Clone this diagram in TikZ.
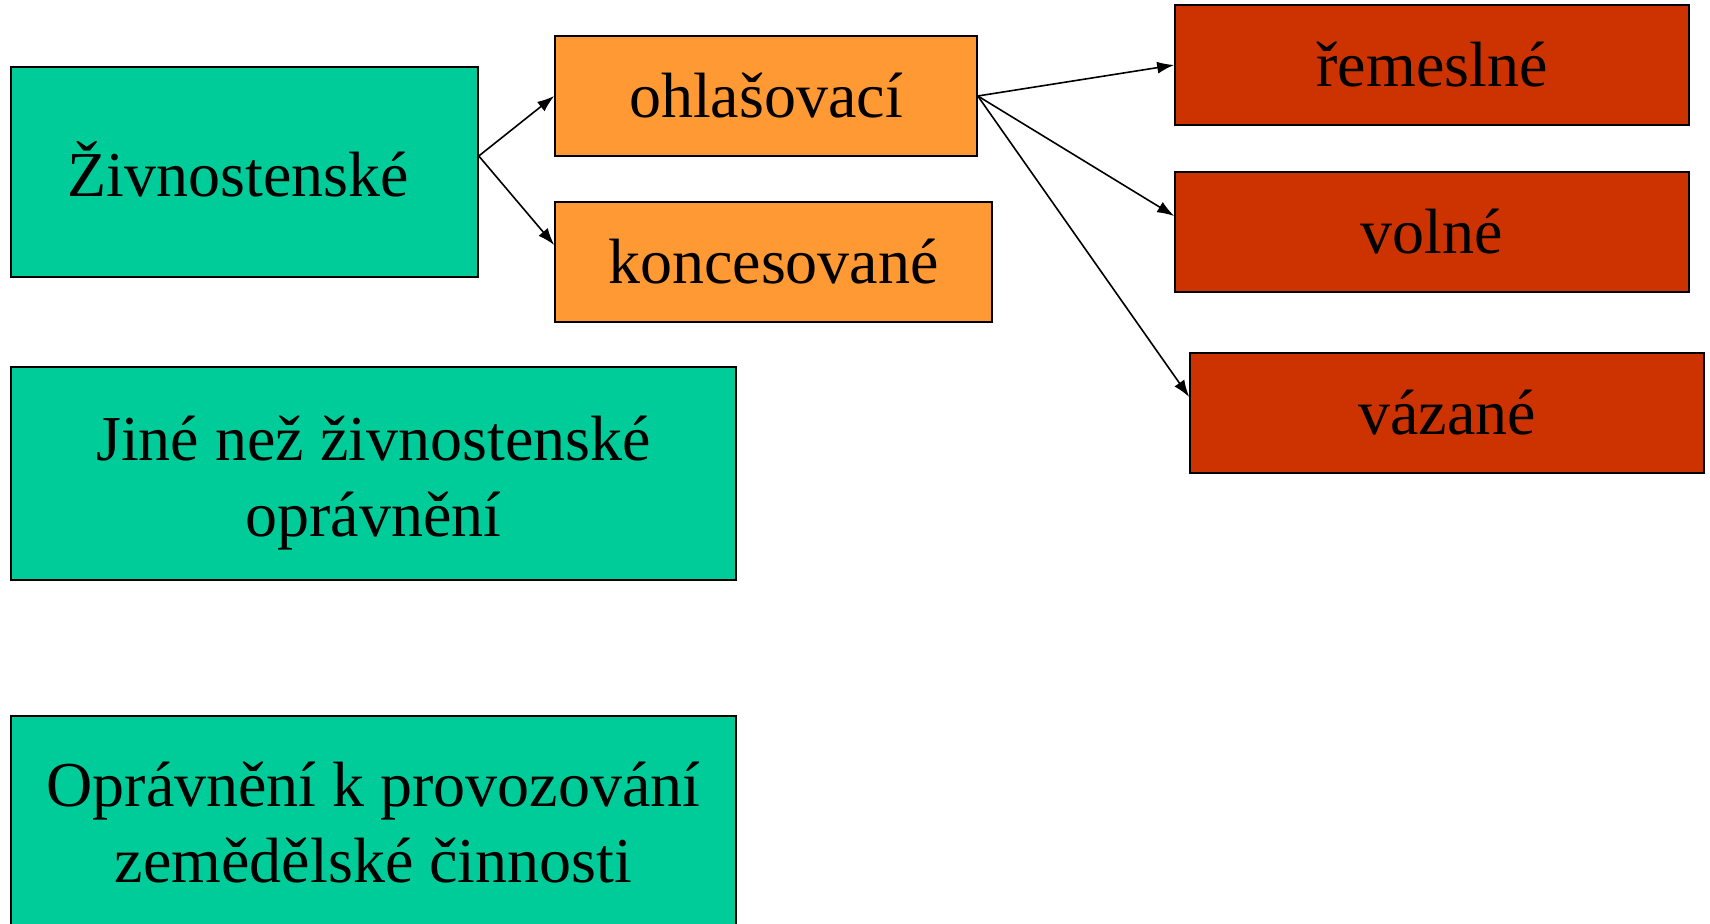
\documentclass[tikz,border=0pt]{standalone}
\usepackage{fontspec}
\setmainfont{Liberation Serif}
\usepackage{tikz}
\definecolor{zelena}{RGB}{0,204,153}
\definecolor{oranzova}{RGB}{255,153,51}
\definecolor{cihlova}{RGB}{204,51,0}
\usetikzlibrary{arrows.meta}
\tikzset{
	box/.style = {draw, line width = 0.8pt, rectangle, inner sep = 0pt, align = center, font = \fontsize{32}{38}\selectfont},
	greenbox/.style = {box, fill = zelena},
	orangebox/.style = {box, fill = oranzova, minimum height = 60pt},
	redbox/.style = {box, fill = cihlova, minimum width = 257pt, minimum height = 60pt},
	sipka/.style = {-{Latex[length = 8.5pt, width = 6pt]}, line width = 0.8pt}
}

\begin{document}
\begin{tikzpicture}[x = 0.5pt, y = -0.5pt]
	\useasboundingbox (0,0) rectangle (1710,924);
	
	\node[greenbox, minimum width = 233.5pt, minimum height = 105pt] (zivn) at (244.5,172) {\raisebox{2.5pt}{Živnostenské}\hspace*{6pt}};
	\node[greenbox, minimum width = 362.5pt, minimum height = 106.5pt] (jine) at (373.5,473.5) {\rule{0pt}{32pt}Jiné než živnostenské\\oprávnění};
	\node[greenbox, minimum width = 362.5pt, minimum height = 106.5pt] (zemed) at (373.5,822.5) {Oprávnění k provozování\\zemědělské činnosti};
	
	\node[orangebox, minimum width = 211pt] (ohlas) at (766,96) {ohlašovací};
	\node[orangebox, minimum width = 218.5pt] (konc) at (773.5,262) {koncesované};
	
	\node[redbox] (remes) at (1432,65) {řemeslné};
	\node[redbox] (volne) at (1432,232) {volné};
	\node[redbox] (vazane) at (1447,413) {vázané};
	
	\draw[sipka] ([yshift = 8pt]zivn.east) -- (ohlas.west);
	\draw[sipka] ([yshift = 8pt]zivn.east) -- ([yshift = 8.5pt]konc.west);
	
	\draw[sipka] (ohlas.east) -- (remes.west);
	\draw[sipka] (ohlas.east) -- ([yshift = 8pt]volne.west);
	\draw[sipka] (ohlas.east) -- ([yshift = 8pt]vazane.west);
	
\end{tikzpicture}
\end{document}
